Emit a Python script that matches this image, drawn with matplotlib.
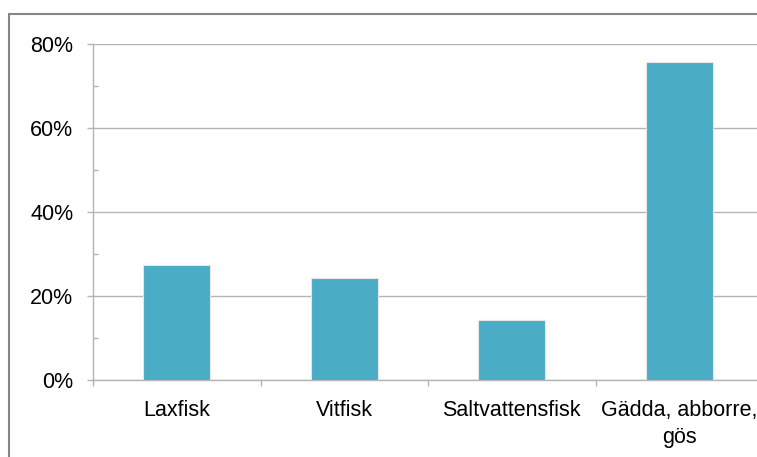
import matplotlib.pyplot as plt
from matplotlib.patches import Rectangle
from matplotlib.ticker import MultipleLocator, FixedLocator, PercentFormatter

categories = ["Laxfisk", "Vitfisk", "Saltvattensfisk", "Gädda, abborre,\ngös"]
shares = [27.4, 24.3, 14.3, 75.7]

plt.rcParams["font.family"] = ["Liberation Sans", "DejaVu Sans"]

fig = plt.figure(figsize=(7.57, 4.57), dpi=100)
ax = fig.add_axes([93 / 757, 77 / 457, 670 / 757, 336 / 457])

# outer chart frame (left and top visible)
fig.patches.append(Rectangle((8.5 / 757, -0.1), 1.2, (457 - 14) / 457 + 0.1,
                             transform=fig.transFigure, fill=False,
                             edgecolor="#868686", linewidth=1.5))

x = range(len(categories))
ax.bar(x, shares, width=0.4, color="#4BACC6", edgecolor="#e6e6e6",
       linewidth=0.8, zorder=3)

ax.set_xlim(-0.5, len(categories) - 0.5)
ax.set_ylim(0, 80)
ax.yaxis.set_major_locator(MultipleLocator(20))
ax.yaxis.set_minor_locator(MultipleLocator(10))
ax.yaxis.set_major_formatter(PercentFormatter(decimals=0))
ax.grid(axis="y", which="major", color="#b4b4b4", linewidth=1)

ax.set_xticks(list(x))
ax.set_xticklabels(categories, linespacing=1.38)
ax.xaxis.set_minor_locator(FixedLocator([i - 0.5 for i in range(len(categories) + 1)]))

ax.tick_params(axis="y", which="major", direction="out", length=4.3, width=1,
               color="#b4b4b4", labelsize=15.5, pad=10)
ax.tick_params(axis="y", which="minor", direction="in", length=3.6, width=1,
               color="#b4b4b4")
ax.tick_params(axis="x", which="major", length=0, labelsize=15.5, pad=14.5)
ax.tick_params(axis="x", which="minor", direction="out", length=4.3, width=1,
               color="#b4b4b4")

for side in ("top", "right"):
    ax.spines[side].set_visible(False)
for side in ("left", "bottom"):
    ax.spines[side].set_color("#b4b4b4")
    ax.spines[side].set_linewidth(1)

fig.savefig("out.png", dpi=100)
